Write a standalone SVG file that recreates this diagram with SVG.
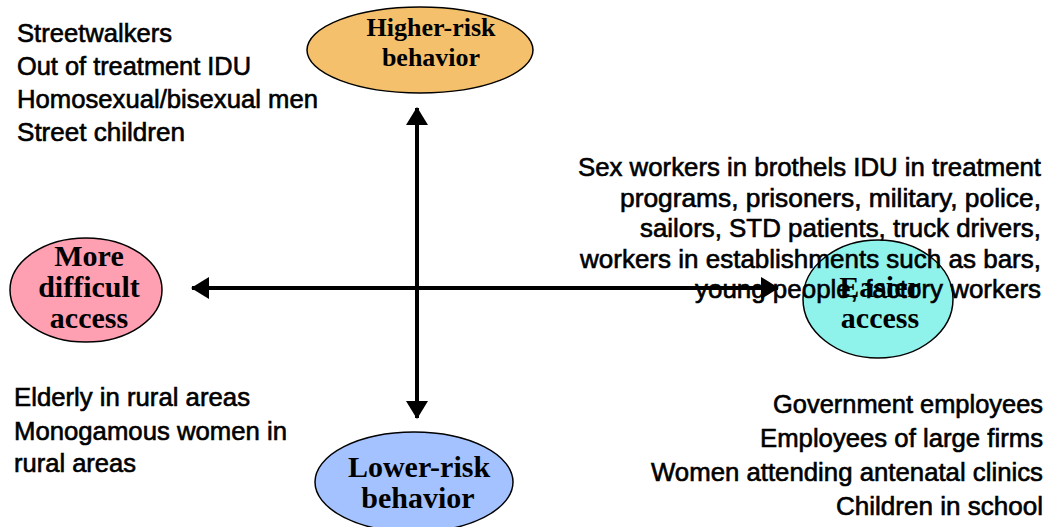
<svg xmlns="http://www.w3.org/2000/svg" width="1051" height="527" viewBox="0 0 1051 527">
<defs>
<style>
.lbl{font-family:"Liberation Sans",Arial,sans-serif;font-size:25px;fill:#000;stroke:#000;stroke-width:0.6}
.end{text-anchor:end}
.node ellipse{stroke:#000;stroke-width:1.5}
.nt{font-family:"Liberation Serif","Times New Roman",serif;font-weight:bold;fill:#000;text-anchor:middle}
.ax{stroke:#000;stroke-width:4;fill:none}
</style>
<marker id="ah" viewBox="0 0 18 22" refX="17" refY="11" markerWidth="18" markerHeight="22" markerUnits="userSpaceOnUse" orient="auto">
<path d="M0,0 L18,11 L0,22 Z" fill="#000"/>
</marker>
</defs>
<rect width="1051" height="527" fill="#fff"/>

<g id="node-higher" class="node">
<ellipse cx="420" cy="50" rx="113" ry="43" fill="#F5C06C"/>
<text class="nt" x="431" y="36" font-size="26">Higher-risk</text>
<text class="nt" x="431" y="66" font-size="26">behavior</text>
</g>
<g id="node-difficult" class="node">
<ellipse cx="86" cy="290" rx="76" ry="52" fill="#FF9FB2"/>
<text class="nt" x="89" y="266" font-size="30">More</text>
<text class="nt" x="89" y="297" font-size="30">difficult</text>
<text class="nt" x="89" y="328" font-size="30">access</text>
</g>
<g id="node-easier" class="node">
<ellipse cx="878" cy="299" rx="75" ry="59" fill="#8FF3EC"/>
<text class="nt" x="880" y="297" font-size="30">Easier</text>
<text class="nt" x="880" y="328" font-size="30">access</text>
</g>
<g id="node-lower" class="node">
<ellipse cx="414" cy="482" rx="99" ry="50" fill="#A4C2FF"/>
<text class="nt" x="419" y="477" font-size="30">Lower-risk</text>
<text class="nt" x="418" y="508" font-size="30">behavior</text>
</g>

<g id="text-topleft">
<text class="lbl" x="17" y="42" textLength="155" lengthAdjust="spacingAndGlyphs">Streetwalkers</text>
<text class="lbl" x="17" y="75" textLength="234" lengthAdjust="spacingAndGlyphs">Out of treatment IDU</text>
<text class="lbl" x="17" y="108" textLength="301" lengthAdjust="spacingAndGlyphs">Homosexual/bisexual men</text>
<text class="lbl" x="17" y="141" textLength="168" lengthAdjust="spacingAndGlyphs">Street children</text>
</g>
<g id="text-topright">
<text class="lbl end" x="1041" y="176" textLength="463" lengthAdjust="spacingAndGlyphs">Sex workers in brothels IDU in treatment</text>
<text class="lbl end" x="1041" y="207" textLength="421" lengthAdjust="spacingAndGlyphs">programs, prisoners, military, police,</text>
<text class="lbl end" x="1041" y="237" textLength="401" lengthAdjust="spacingAndGlyphs">sailors, STD patients, truck drivers,</text>
<text class="lbl end" x="1041" y="268" textLength="461" lengthAdjust="spacingAndGlyphs">workers in establishments such as bars,</text>
<text class="lbl end" x="1041" y="298" textLength="346" lengthAdjust="spacingAndGlyphs">young people, factory workers</text>
</g>
<g id="text-bottomleft">
<text class="lbl" x="14" y="406" textLength="236" lengthAdjust="spacingAndGlyphs">Elderly in rural areas</text>
<text class="lbl" x="14" y="440" textLength="273" lengthAdjust="spacingAndGlyphs">Monogamous women in</text>
<text class="lbl" x="14" y="472" textLength="122" lengthAdjust="spacingAndGlyphs">rural areas</text>
</g>
<g id="text-bottomright">
<text class="lbl end" x="1043" y="413" textLength="270" lengthAdjust="spacingAndGlyphs">Government employees</text>
<text class="lbl end" x="1043" y="447" textLength="283" lengthAdjust="spacingAndGlyphs">Employees of large firms</text>
<text class="lbl end" x="1043" y="481" textLength="392" lengthAdjust="spacingAndGlyphs">Women attending antenatal clinics</text>
<text class="lbl end" x="1043" y="515" textLength="207" lengthAdjust="spacingAndGlyphs">Children in school</text>
</g>

<g id="connectors">
<line class="ax" x1="417" y1="288" x2="417" y2="108" marker-end="url(#ah)"/>
<line class="ax" x1="417" y1="288" x2="417" y2="418" marker-end="url(#ah)"/>
<line class="ax" x1="417" y1="288" x2="192" y2="288" marker-end="url(#ah)"/>
<line class="ax" x1="417" y1="288" x2="778" y2="288" marker-end="url(#ah)"/>
</g>
</svg>
